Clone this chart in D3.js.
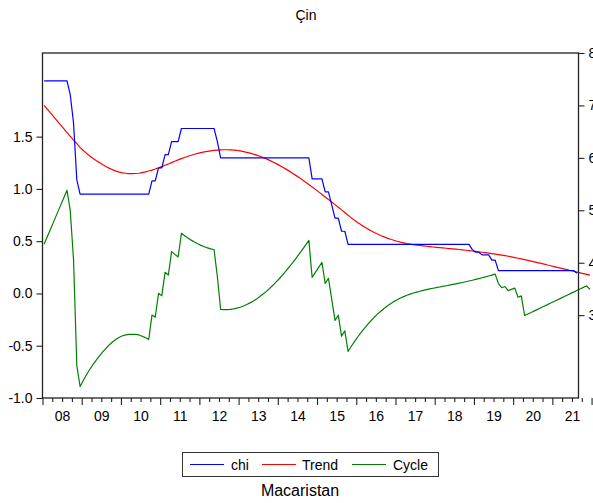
<!DOCTYPE html>
<html>
<head>
<meta charset="utf-8">
<script src="https://cdn.jsdelivr.net/npm/d3@7"></script>
<style>
  html, body { margin: 0; padding: 0; background: #fff; }
  svg { display: block; font-family: "Liberation Sans", Arial, sans-serif; }
</style>
</head>
<body>
<svg id="chart" width="593" height="503"></svg>
<script>
// Monthly observations, 2008M01 .. 2021M12
const startYear = 2008;
const yearLabels = ["08","09","10","11","12","13","14","15","16","17","18","19","20","21"];

// one-year lending rate (%)
const chi = [
  7.47,7.47,7.47,7.47,7.47,7.47,7.47,7.47,7.20,6.66,5.58,5.31,
  5.31,5.31,5.31,5.31,5.31,5.31,5.31,5.31,5.31,5.31,5.31,5.31,
  5.31,5.31,5.31,5.31,5.31,5.31,5.31,5.31,5.31,5.56,5.56,5.81,
  5.81,6.06,6.06,6.31,6.31,6.31,6.56,6.56,6.56,6.56,6.56,6.56,
  6.56,6.56,6.56,6.56,6.56,6.31,6.00,6.00,6.00,6.00,6.00,6.00,
  6.00,6.00,6.00,6.00,6.00,6.00,6.00,6.00,6.00,6.00,6.00,6.00,
  6.00,6.00,6.00,6.00,6.00,6.00,6.00,6.00,6.00,6.00,5.60,5.60,
  5.60,5.60,5.35,5.35,5.10,4.85,4.85,4.60,4.60,4.35,4.35,4.35,
  4.35,4.35,4.35,4.35,4.35,4.35,4.35,4.35,4.35,4.35,4.35,4.35,
  4.35,4.35,4.35,4.35,4.35,4.35,4.35,4.35,4.35,4.35,4.35,4.35,
  4.35,4.35,4.35,4.35,4.35,4.35,4.35,4.35,4.35,4.35,4.35,4.25,
  4.20,4.20,4.15,4.15,4.15,4.05,4.05,3.85,3.85,3.85,3.85,3.85,
  3.85,3.85,3.85,3.85,3.85,3.85,3.85,3.85,3.85,3.85,3.85,3.85,
  3.85,3.85,3.85,3.85,3.85,3.85,3.85,3.80
];

// Hodrick-Prescott trend (%)
const trend = [
  7.000,6.926,6.852,6.778,6.704,6.630,6.556,6.483,6.411,6.340,6.270,6.200,
  6.140,6.085,6.035,5.989,5.946,5.905,5.867,5.832,5.800,5.772,5.748,5.729,
  5.715,5.706,5.701,5.700,5.702,5.707,5.720,5.733,5.749,5.767,5.787,5.809,
  5.833,5.858,5.884,5.910,5.936,5.961,5.985,6.008,6.030,6.050,6.068,6.085,
  6.100,6.113,6.124,6.134,6.142,6.148,6.152,6.155,6.155,6.153,6.148,6.141,
  6.132,6.120,6.106,6.090,6.072,6.052,6.030,6.006,5.980,5.952,5.922,5.890,
  5.857,5.822,5.785,5.747,5.707,5.666,5.624,5.581,5.537,5.492,5.446,5.399,
  5.351,5.303,5.255,5.206,5.157,5.108,5.058,5.008,4.958,4.905,4.855,4.808,
  4.764,4.722,4.683,4.646,4.611,4.578,4.548,4.520,4.494,4.470,4.448,4.428,
  4.410,4.394,4.380,4.367,4.356,4.346,4.337,4.329,4.321,4.314,4.307,4.300,
  4.294,4.288,4.282,4.276,4.270,4.264,4.258,4.252,4.245,4.238,4.231,4.224,
  4.216,4.208,4.200,4.192,4.183,4.174,4.165,4.155,4.145,4.134,4.123,4.111,
  4.099,4.086,4.073,4.060,4.046,4.032,4.017,4.002,3.987,3.972,3.957,3.942,
  3.927,3.912,3.897,3.882,3.867,3.852,3.837,3.822,3.807,3.792,3.777,3.762
];

// cyclical component (percentage points)
const cycle = [
  0.470,0.544,0.618,0.692,0.766,0.840,0.914,0.987,0.789,0.320,-0.690,-0.890,
  -0.830,-0.775,-0.725,-0.679,-0.636,-0.595,-0.557,-0.522,-0.490,-0.462,-0.438,-0.419,
  -0.405,-0.396,-0.391,-0.390,-0.392,-0.397,-0.410,-0.423,-0.439,-0.207,-0.227,0.001,
  -0.023,0.202,0.176,0.400,0.374,0.349,0.575,0.552,0.530,0.510,0.492,0.475,
  0.460,0.447,0.436,0.426,0.418,0.162,-0.152,-0.155,-0.155,-0.153,-0.148,-0.141,
  -0.132,-0.120,-0.106,-0.090,-0.072,-0.052,-0.030,-0.006,0.020,0.048,0.078,0.110,
  0.143,0.178,0.215,0.253,0.293,0.334,0.376,0.419,0.463,0.508,0.154,0.201,
  0.249,0.297,0.095,0.144,-0.057,-0.258,-0.208,-0.408,-0.358,-0.555,-0.505,-0.458,
  -0.414,-0.372,-0.333,-0.296,-0.261,-0.228,-0.198,-0.170,-0.144,-0.120,-0.098,-0.078,
  -0.060,-0.044,-0.030,-0.017,-0.006,0.004,0.013,0.021,0.029,0.036,0.043,0.050,
  0.056,0.062,0.068,0.074,0.080,0.086,0.092,0.098,0.105,0.112,0.119,0.126,
  0.134,0.142,0.150,0.158,0.167,0.176,0.185,0.095,0.055,0.066,0.027,0.039,
  0.051,-0.036,-0.023,-0.210,-0.196,-0.182,-0.167,-0.152,-0.137,-0.122,-0.107,-0.092,
  -0.077,-0.062,-0.047,-0.032,-0.017,-0.002,0.013,0.028,0.043,0.058,0.073,0.038
];

const leftTicks = [-1.0, -0.5, 0.0, 0.5, 1.0, 1.5];
const rightTicks = [3, 4, 5, 6, 7, 8];
const seriesNames = ["chi", "Trend", "Cycle"];
const seriesColors = ["#0000ff", "#ff0000", "#008000"];

const svg = d3.select("#chart");
const plot = { left: 42.5, right: 578.5, top: 53, bottom: 398 };
const n = chi.length;

// month index -> x; each observation sits in the middle of its month slot
const x = d3.scaleLinear().domain([-0.5, n - 0.5]).range([plot.left, plot.right]);
// cycle on the left scale, level and trend on the right scale
const yL = d3.scaleLinear().domain([-1.0, 2.3]).range([plot.bottom, plot.top]);
const yR = d3.scaleLinear().domain([1.42, 8]).range([plot.bottom, plot.top]);

const axisColor = "#222";

// plotted series
const lineR = d3.line().x((d, i) => x(i)).y(d => yR(d));
const lineL = d3.line().x((d, i) => x(i)).y(d => yL(d));

const lines = svg.append("g").attr("fill", "none").attr("stroke-width", 1.2)
  .attr("stroke-linejoin", "round");
lines.append("path").attr("d", lineL(cycle)).attr("stroke", seriesColors[2]);
lines.append("path").attr("d", lineR(trend)).attr("stroke", seriesColors[1]);
lines.append("path").attr("d", lineR(chi)).attr("stroke", seriesColors[0]);

// frame
svg.append("rect")
  .attr("x", plot.left).attr("y", plot.top)
  .attr("width", plot.right - plot.left).attr("height", plot.bottom - plot.top)
  .attr("fill", "none").attr("stroke", axisColor).attr("stroke-width", 1.3);

function styleAxis(g) {
  g.select(".domain").remove();
  g.selectAll(".tick line").attr("stroke", axisColor).attr("stroke-width", 1.1);
  g.selectAll(".tick text").attr("fill", "#000").attr("font-size", 14)
    .attr("font-family", "'Liberation Sans', Arial, sans-serif");
}

// left axis
svg.append("g").attr("transform", `translate(${plot.left},0)`)
  .call(d3.axisLeft(yL).tickValues(leftTicks).tickSize(6).tickPadding(4)
    .tickFormat(v => v.toFixed(1)))
  .call(styleAxis);

// right axis
svg.append("g").attr("transform", `translate(${plot.right},0)`)
  .call(d3.axisRight(yR).tickValues(rightTicks).tickSize(6).tickPadding(4)
    .tickFormat(d3.format("d")))
  .call(styleAxis);

// bottom axis: year boundaries, quarter minor ticks, year labels
const years = yearLabels.length;
const majorTicks = d3.range(0, years + 1).map(k => k * 12 - 0.5);
const minorTicks = d3.range(1, years * 4).filter(k => k % 4 !== 0).map(k => k * 3 - 0.5);
const labelPos = d3.range(0, years).map(k => k * 12 + 5.5);

svg.append("g").attr("transform", `translate(0,${plot.bottom})`)
  .call(d3.axisBottom(x).tickValues(majorTicks).tickSize(7).tickFormat(""))
  .call(styleAxis);
svg.append("g").attr("transform", `translate(0,${plot.bottom})`)
  .call(d3.axisBottom(x).tickValues(minorTicks).tickSize(4).tickFormat(""))
  .call(styleAxis);
svg.append("g").attr("transform", `translate(0,${plot.bottom})`)
  .call(d3.axisBottom(x).tickValues(labelPos).tickSize(0).tickPadding(13)
    .tickFormat((d, i) => yearLabels[i]))
  .call(styleAxis);

// title
svg.append("text").attr("x", 306).attr("y", 20).attr("text-anchor", "middle")
  .attr("font-size", 14).text("Çin");

// legend
const legend = svg.append("g");
legend.append("rect").attr("x", 182.5).attr("y", 452.5).attr("width", 256).attr("height", 24)
  .attr("fill", "#fff").attr("stroke", "#333").attr("stroke-width", 1);
const legendItems = [
  { lx: 190, tx: 231 },
  { lx: 262, tx: 302 },
  { lx: 352, tx: 393 }
];
legendItems.forEach((it, i) => {
  legend.append("line").attr("x1", it.lx).attr("x2", it.lx + 34)
    .attr("y1", 464.5).attr("y2", 464.5)
    .attr("stroke", seriesColors[i]).attr("stroke-width", 1.2);
  legend.append("text").attr("x", it.tx).attr("y", 469.5)
    .attr("font-size", 14).text(seriesNames[i]);
});

// caption below
svg.append("text").attr("x", 300).attr("y", 496).attr("text-anchor", "middle")
  .attr("font-size", 16).text("Macaristan");
</script>
</body>
</html>
